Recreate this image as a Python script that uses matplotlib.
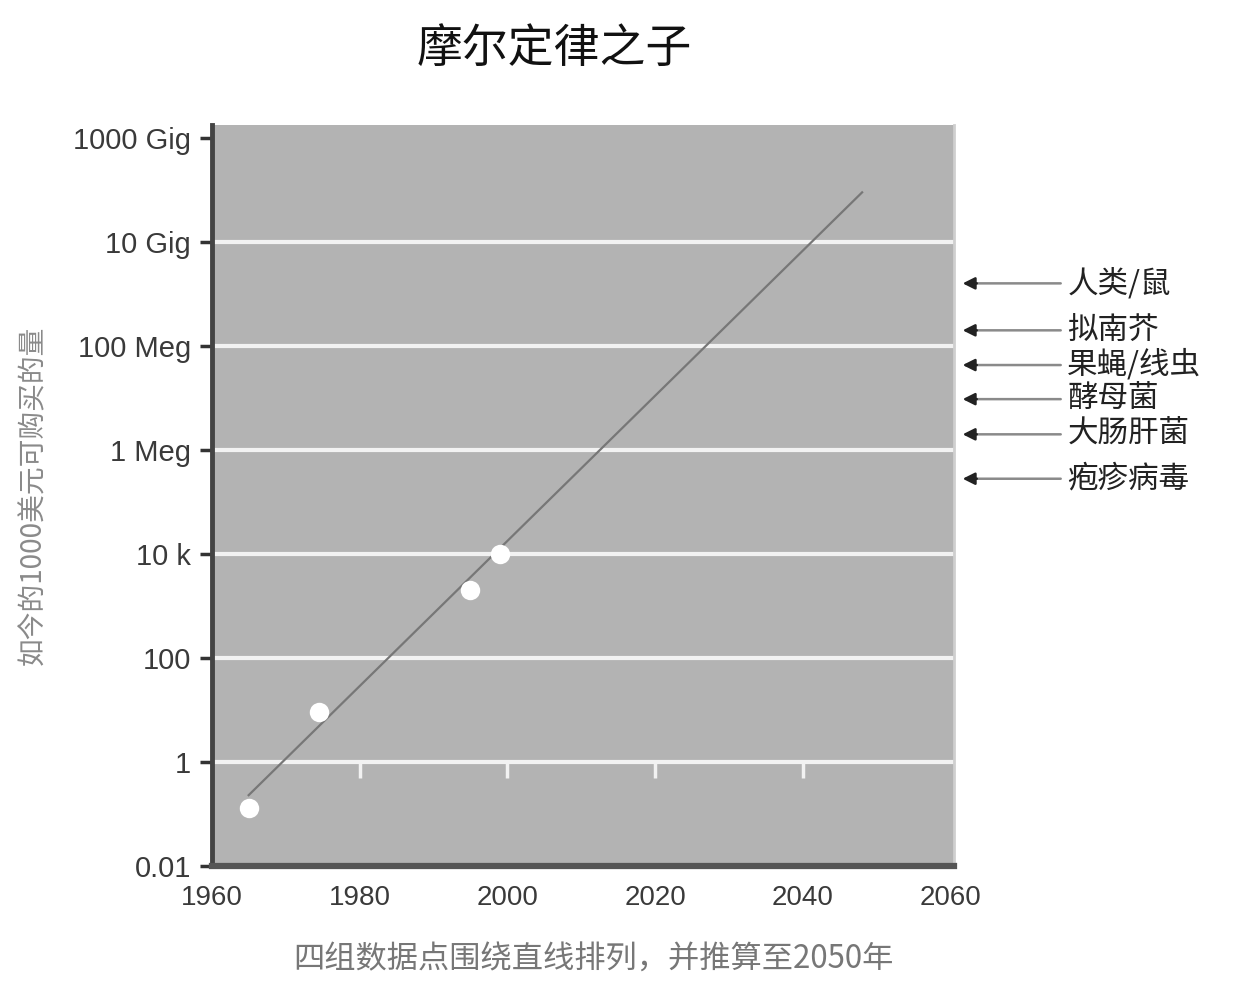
import numpy as np
import matplotlib.pyplot as plt

plt.rcParams['font.family'] = ['Noto Sans CJK SC', 'DejaVu Sans']

# === 数据 ===
years = [1965, 1974.5, 1995, 1999]
values = [0.13, 9, 2000, 10000]

trend_years = [1965, 2048]
trend_values = [0.23, 9.0e10]

ytick_vals = [1e-2, 1, 1e2, 1e4, 1e6, 1e8, 1e10, 1e12]
ytick_labels = ["0.01", "1", "100", "10 k", "1 Meg", "100 Meg", "10 Gig", "1000 Gig"]
xtick_vals = [1960, 1980, 2000, 2020, 2040, 2060]

organisms = ["人类/鼠", "拟南芥", "果蝇/线虫", "酵母菌", "大肠肝菌", "疱疹病毒"]
organism_values = [1.6e9, 2.0e8, 4.3e7, 9.5e6, 2.0e6, 2.8e5]

fig = plt.figure(figsize=(12.38, 9.88), dpi=100)
ax = fig.add_axes([0.171, 0.1235, 0.6, 0.75])
ax.set_facecolor("#b3b3b3")

ax.set_yscale("log")
ax.set_xlim(1960, 2060.5)
ax.set_ylim(1e-2, 10 ** 12.25)

# сетка — белые линии
for v in ytick_vals[1:-1]:
    ax.axhline(v, color="#f2f2f2", lw=3, zorder=1)
# белые засечки под линией "1"
ax.vlines(xtick_vals[1:-1], 0.5, 1, color="#f2f2f2", lw=2.5, zorder=1)

ax.plot(trend_years, trend_values, color="#777777", lw=1.6, zorder=2)
ax.plot(years, values, "o", color="white", markersize=14, markeredgewidth=0, zorder=3)

ax.set_yticks(ytick_vals)
ax.set_yticklabels(ytick_labels, fontsize=21, color="#3a3a3a", family="Liberation Sans")
ax.yaxis.set_minor_locator(plt.NullLocator())
ax.tick_params(axis="y", length=9, width=2.5, color="#333333", pad=6)
ax.set_xticks(xtick_vals)
ax.set_xticklabels([str(x) for x in xtick_vals], fontsize=20, color="#3a3a3a", family="Liberation Sans")
ax.tick_params(axis="x", length=0, pad=14)

ax.spines["top"].set_visible(False)
ax.spines["right"].set_color("#cfcfcf")
ax.spines["right"].set_linewidth(2)
ax.spines["left"].set_color("#444444")
ax.spines["left"].set_linewidth(3.5)
ax.spines["bottom"].set_color("#555555")
ax.spines["bottom"].set_linewidth(4.5)

# стрелки справа
ytr = ax.get_yaxis_transform()
for name, v in zip(organisms, organism_values):
    ax.annotate("", xy=(1.02, v), xytext=(1.143, v),
                xycoords=ytr, textcoords=ytr,
                arrowprops=dict(arrowstyle="-", color="#8a8a8a", lw=1.8,
                                shrinkA=0, shrinkB=0),
                annotation_clip=False)
    ax.annotate("", xy=(1.011, v), xytext=(1.03, v),
                xycoords=ytr, textcoords=ytr,
                arrowprops=dict(arrowstyle="-|>", color="#222222", lw=1.8,
                                mutation_scale=18, shrinkA=0, shrinkB=0),
                annotation_clip=False)
    ax.text(1.152, v, name, transform=ytr, fontsize=22,
            color="#222222", va="center", ha="left")

fig.text(0.448, 0.951, "摩尔定律之子", fontsize=33, ha="center", va="center", color="#111111")
ax.set_xlabel("四组数据点围绕直线排列，并推算至2050年", fontsize=22.5, color="#777777")
ax.xaxis.set_label_coords(0.514, -0.105)
ax.set_ylabel("如今的1000美元可购买的量", fontsize=20, color="#8a8a8a", labelpad=18)

plt.savefig("out.png", dpi=100)
